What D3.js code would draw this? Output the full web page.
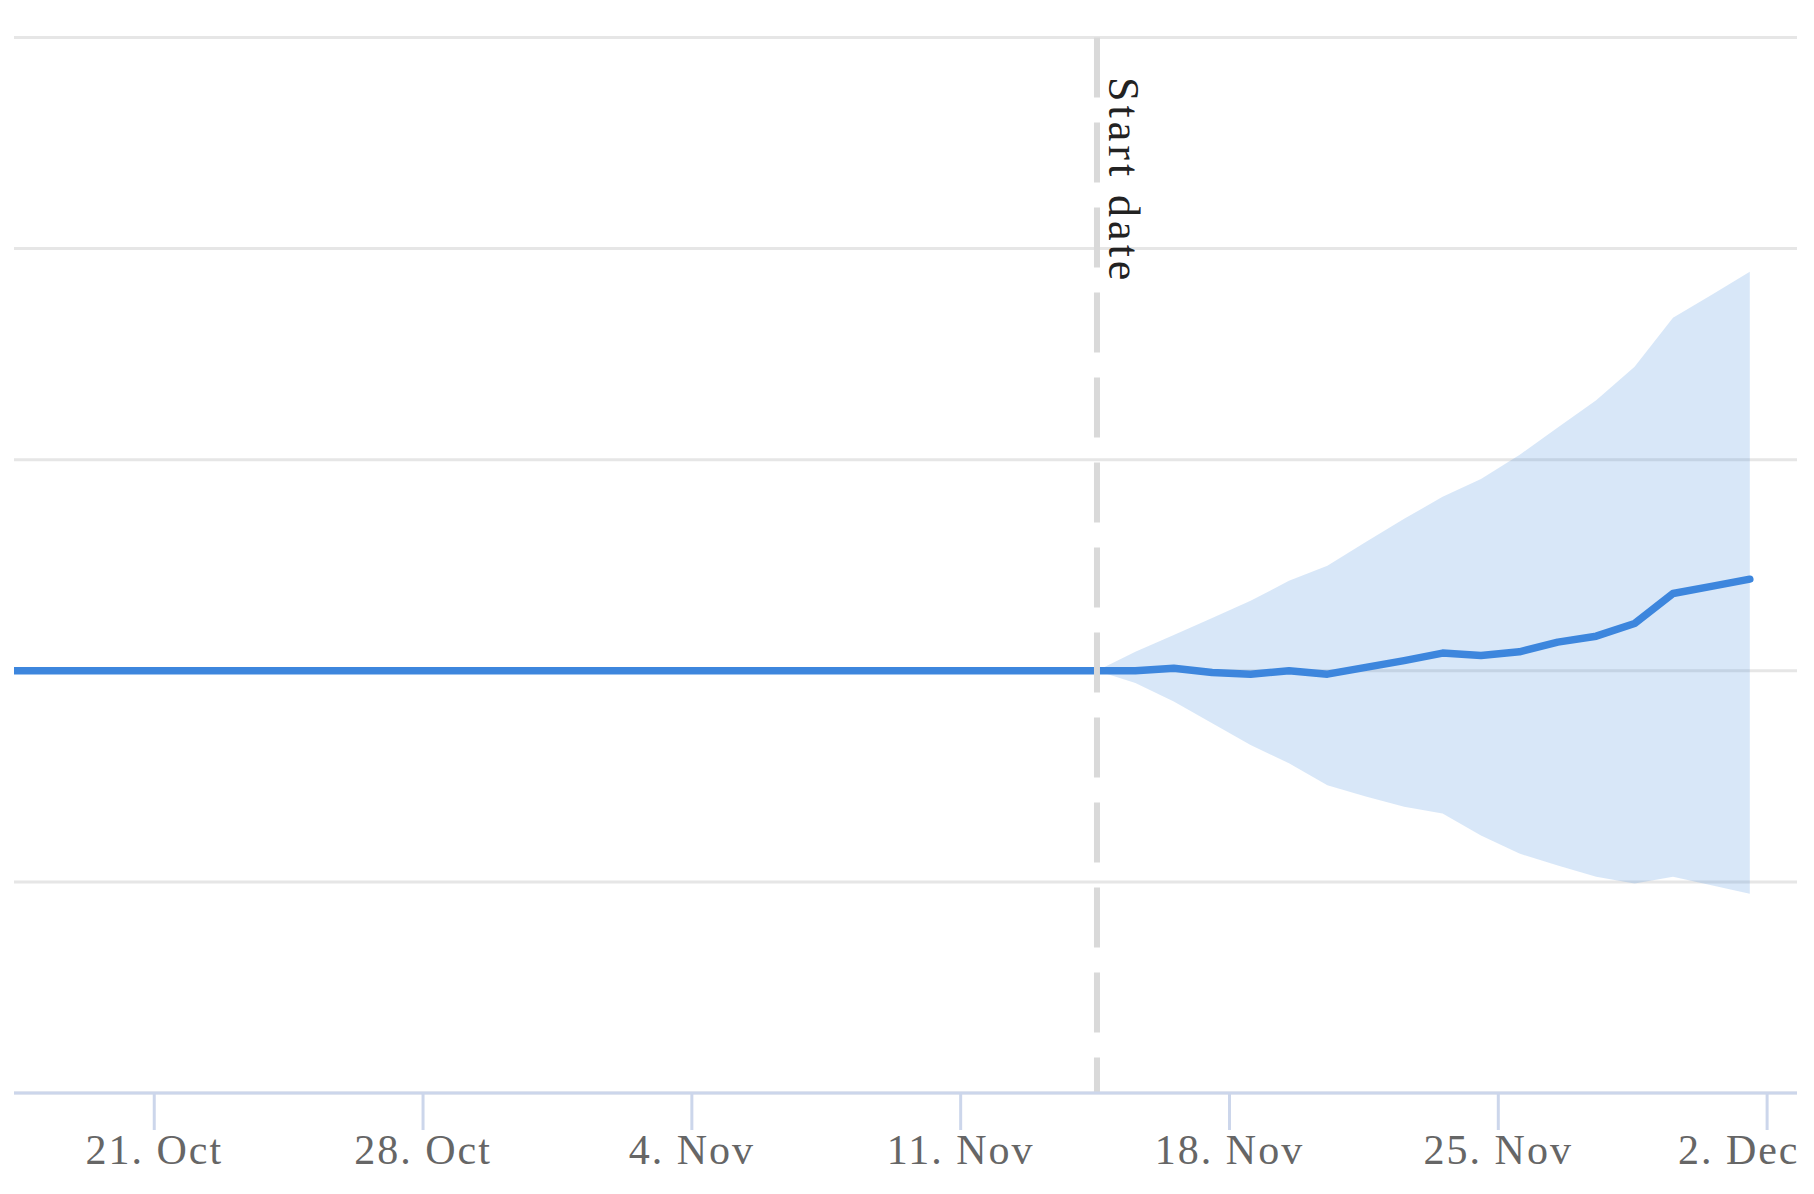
<!DOCTYPE html>
<html>
<head>
<meta charset="utf-8">
<script src="https://cdn.jsdelivr.net/npm/d3@7"></script>
<style>
  html, body { margin: 0; padding: 0; background: #ffffff; }
  svg { display: block; }
</style>
</head>
<body>
<svg id="chart" width="1814" height="1194"></svg>
<script>
// ---------------- DATA ----------------
const historyDates = [
  "2019-10-16","2019-10-17","2019-10-18","2019-10-19","2019-10-20","2019-10-21",
  "2019-10-22","2019-10-23","2019-10-24","2019-10-25","2019-10-26","2019-10-27",
  "2019-10-28","2019-10-29","2019-10-30","2019-10-31","2019-11-01","2019-11-02",
  "2019-11-03","2019-11-04","2019-11-05","2019-11-06","2019-11-07","2019-11-08",
  "2019-11-09","2019-11-10","2019-11-11","2019-11-12","2019-11-13","2019-11-14"
];
const historyValues = [
  100,100,100,100,100,100,100,100,100,100,100,100,100,100,100,
  100,100,100,100,100,100,100,100,100,100,100,100,100,100,100
];

const forecastDates = [
  "2019-11-14","2019-11-15","2019-11-16","2019-11-17","2019-11-18","2019-11-19",
  "2019-11-20","2019-11-21","2019-11-22","2019-11-23","2019-11-24","2019-11-25",
  "2019-11-26","2019-11-27","2019-11-28","2019-11-29","2019-11-30","2019-12-01"
];
const forecastMean  = [100, 100, 100.6, 99.6, 99.2, 100, 99.2, 100.8, 102.4, 104.2, 103.6, 104.5, 106.8, 108.2, 111.2, 118.3, 120.0, 121.7];
const forecastUpper = [100, 104.5, 108.5, 112.5, 116.6, 121.3, 124.9, 130.5, 136.0, 141.2, 145.4, 151.1, 157.6, 164.1, 172.0, 183.6, 189.0, 194.5];
const forecastLower = [100, 97.1, 92.7, 87.6, 82.4, 78.1, 72.9, 70.2, 67.8, 66.2, 61.0, 56.7, 53.9, 51.2, 49.6, 51.2, 49.2, 47.2];

const startDate = "2019-11-14";
const startLabel = "Start date";

const xTickDates = ["2019-10-21","2019-10-28","2019-11-04","2019-11-11","2019-11-18","2019-11-25","2019-12-02"];
const yGridValues = [0, 50, 100, 150, 200, 250];

// ---------------- LAYOUT ----------------
const DATA_HOUR = 13.5;          // time of day of each daily observation (UTC)
const parseDay = d3.utcParse("%Y-%m-%d");
const atHour = s => new Date(parseDay(s).getTime() + DATA_HOUR * 3600e3);

const plotLeft = 14, plotRight = 1797, plotTop = 37.5, plotBottom = 1093;

const x = d3.scaleUtc()
  .domain([Date.UTC(2019, 9, 17, 8, 40), Date.UTC(2019, 11, 2, 19, 0)])
  .range([plotLeft, plotRight]);
const y = d3.scaleLinear().domain([0, 250]).range([plotBottom, plotTop]);

const svg = d3.select("#chart");

svg.append("defs").append("clipPath").attr("id", "plotClip")
  .append("rect")
  .attr("x", plotLeft).attr("y", 0)
  .attr("width", plotRight - plotLeft).attr("height", plotBottom + 10);

// grid lines
svg.append("g").selectAll("line").data(yGridValues).join("line")
  .attr("x1", plotLeft).attr("x2", plotRight)
  .attr("y1", d => y(d)).attr("y2", d => y(d))
  .attr("stroke", "#e6e6e6").attr("stroke-width", 3);

const plot = svg.append("g").attr("clip-path", "url(#plotClip)");

// confidence band
const bandData = forecastDates.map((d, i) => ({ t: atHour(d), lo: forecastLower[i], hi: forecastUpper[i] }));
plot.append("path").datum(bandData)
  .attr("d", d3.area().x(d => x(d.t)).y0(d => y(d.lo)).y1(d => y(d.hi)))
  .attr("fill", "#3d86dd").attr("fill-opacity", 0.2);

// start date plot line
const sx = x(atHour(startDate));
svg.append("line")
  .attr("x1", sx).attr("x2", sx).attr("y1", plotTop).attr("y2", plotBottom)
  .attr("stroke", "#d9d9d9").attr("stroke-width", 6)
  .attr("stroke-dasharray", "60 25");

svg.append("text")
  .attr("transform", `translate(${sx + 12},77) rotate(90)`)
  .attr("font-family", "'Liberation Serif', 'Times New Roman', serif")
  .attr("font-size", 44).attr("letter-spacing", "4px")
  .attr("fill", "#222")
  .text(startLabel);

// series line
const lineData = historyDates.map((d, i) => ({ t: atHour(d), v: historyValues[i] }))
  .concat(forecastDates.slice(1).map((d, i) => ({ t: atHour(d), v: forecastMean[i + 1] })));
plot.append("path").datum(lineData)
  .attr("d", d3.line().x(d => x(d.t)).y(d => y(d.v)))
  .attr("fill", "none").attr("stroke", "#3d86dd").attr("stroke-width", 7.5)
  .attr("stroke-linejoin", "round").attr("stroke-linecap", "round");

// x axis
const xAxis = d3.axisBottom(x)
  .tickValues(xTickDates.map(parseDay))
  .tickFormat(d3.utcFormat("%-d. %b"))
  .tickSize(37).tickSizeOuter(0).tickPadding(0);
const gx = svg.append("g").attr("transform", `translate(0,${plotBottom})`).call(xAxis);
gx.select(".domain").attr("stroke", "#ccd6eb").attr("stroke-width", 3)
  .attr("d", `M${plotLeft},0H${plotRight}`);
gx.selectAll(".tick line").attr("stroke", "#ccd6eb").attr("stroke-width", 3);
gx.selectAll(".tick text")
  .attr("y", 71).attr("dy", null)
  .attr("fill", "#666666")
  .attr("font-family", "'Liberation Serif', 'Times New Roman', serif")
  .attr("font-size", 42).attr("letter-spacing", "2px")
  .attr("text-anchor", "middle");

// keep labels inside the chart: shift any overflowing label left (like the reference)
gx.selectAll(".tick").each(function (d) {
  const t = d3.select(this).select("text");
  const box = t.node().getBBox();
  const tx = x(d);
  const overflow = tx + box.x + box.width - 2 - plotRight;
  if (overflow > 0) t.attr("x", -overflow);
});
</script>
</body>
</html>
